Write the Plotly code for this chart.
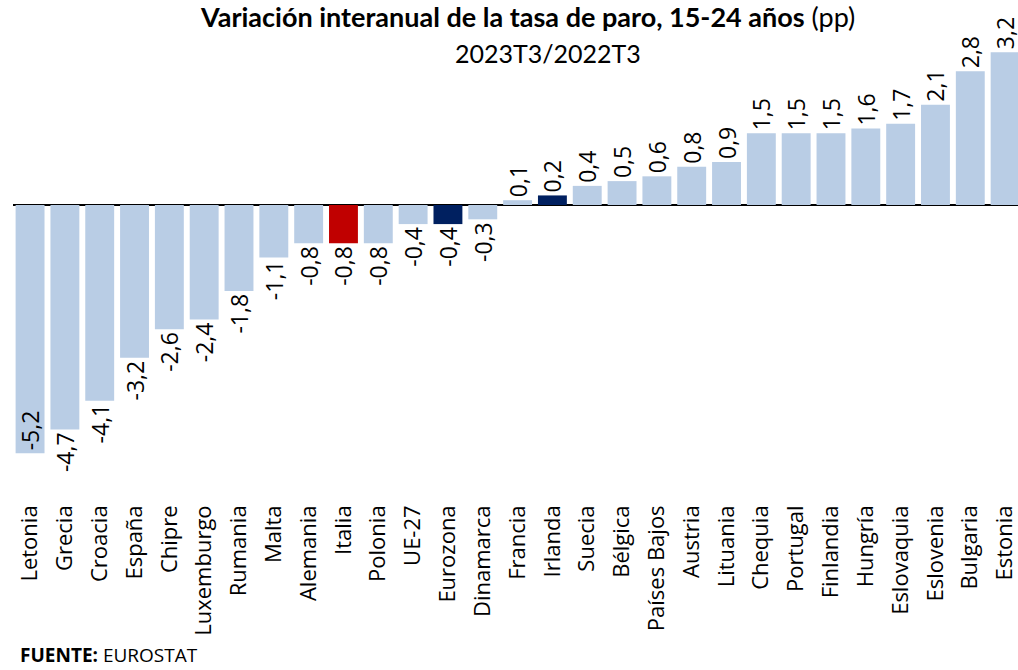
import plotly.graph_objects as go

# Youth (15-24) unemployment rate, year-on-year change in percentage points
paises = ["Letonia", "Grecia", "Croacia", "España", "Chipre", "Luxemburgo", "Rumania",
          "Malta", "Alemania", "Italia", "Polonia", "UE-27", "Eurozona", "Dinamarca",
          "Francia", "Irlanda", "Suecia", "Bélgica", "Países Bajos", "Austria", "Lituania",
          "Chequia", "Portugal", "Finlandia", "Hungría", "Eslovaquia", "Eslovenia",
          "Bulgaria", "Estonia"]
variacion = [-5.2, -4.7, -4.1, -3.2, -2.6, -2.4, -1.8, -1.1, -0.8, -0.8, -0.8, -0.4, -0.4,
             -0.3, 0.1, 0.2, 0.4, 0.5, 0.6, 0.8, 0.9, 1.5, 1.5, 1.5, 1.6, 1.7, 2.1, 2.8, 3.2]

AZUL_CLARO = "#b9cde5"
ROJO = "#c00000"
AZUL_OSCURO = "#002060"
destacados = {"Italia": ROJO, "Irlanda": AZUL_OSCURO, "Eurozona": AZUL_OSCURO}
colores = [destacados.get(p, AZUL_CLARO) for p in paises]

etiquetas = [f"{v:.1f}".replace(".", ",") for v in variacion]
# the deepest bar carries its label inside, at the bar end
posiciones = ["inside" if v == min(variacion) else "outside" for v in variacion]

FUENTE_VALORES = dict(family="Open Sans", size=23, color="#000000")

fig = go.Figure(go.Bar(
    x=list(range(len(paises))),
    y=variacion,
    marker=dict(color=colores, line=dict(width=0)),
    text=etiquetas,
    textposition=posiciones,
    insidetextanchor="end",
    textangle=-90,
    constraintext="none",
    textfont=FUENTE_VALORES,
    insidetextfont=FUENTE_VALORES,
    outsidetextfont=FUENTE_VALORES,
    cliponaxis=False,
    hoverinfo="skip",
))

W, H = 1018, 670
M_L, M_R, M_T, M_B = 13, 0, 40, 170


def px_x(x):
    return (x - M_L) / (W - M_L - M_R)


def px_y(y_from_top):
    return (H - y_from_top - M_B) / (H - M_T - M_B)


fig.update_layout(
    width=W, height=H,
    margin=dict(l=M_L, r=M_R, t=M_T, b=M_B),
    paper_bgcolor="white", plot_bgcolor="white",
    bargap=0.17,
    showlegend=False,
    xaxis=dict(
        range=[-0.49, 28.37],
        tickmode="array",
        tickvals=list(range(len(paises))),
        ticktext=paises,
        tickangle=-90,
        ticklabeloverflow="allow",
        tickfont=dict(family="Open Sans", size=22, color="#000000"),
        showgrid=False, zeroline=False, showline=False, ticks="",
    ),
    yaxis=dict(
        range=[-6.178, 3.455],
        showgrid=False, showticklabels=False, ticks="",
        zeroline=True, zerolinecolor="#000000", zerolinewidth=2,
    ),
    annotations=[
        dict(text="<b>Variación interanual de la tasa de paro, 15-24 años</b> (pp)",
             x=px_x(527), y=px_y(17), xref="paper", yref="paper", showarrow=False,
             yanchor="middle", font=dict(family="Lato", size=27, color="#000000")),
        dict(text="2023T3/2022T3",
             x=px_x(548), y=px_y(53), xref="paper", yref="paper", showarrow=False,
             yanchor="middle", font=dict(family="Lato", size=25, color="#000000")),
        dict(text="<b>FUENTE:</b> EUROSTAT",
             x=px_x(18), y=px_y(655), xref="paper", yref="paper", showarrow=False,
             xanchor="left", yanchor="middle",
             font=dict(family="Open Sans", size=19, color="#000000")),
    ],
)

fig.write_html("out.html")
